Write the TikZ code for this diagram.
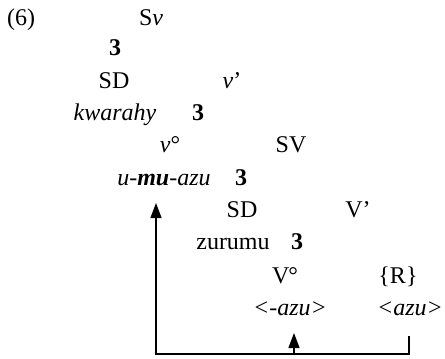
\documentclass[tikz,border=0pt]{standalone}
\usepackage{fontspec}
\setmainfont{Liberation Serif}
\usetikzlibrary{arrows.meta}
\begin{document}
\begin{tikzpicture}[x=1pt,y=-1pt,
  lbl/.style={anchor=base,inner sep=0pt,font=\fontsize{24}{29}\selectfont},
  br/.style={lbl,font=\fontsize{24}{29}\selectfont\bfseries},
  mv/.style={line width=1.3pt},
  tip/.style={-{Triangle[length=15pt,width=11pt]}}]
\useasboundingbox (0,0) rectangle (445,359);
% labels
\node[lbl,anchor=base west] (ex) at (7,25) {(6)};
\node[lbl] (sv) at (151,25) {S\textit{v}};
\node[br] (b1) at (115,55) {3};
\node[lbl] (sd1) at (114,88) {SD};
\node[lbl] (vbar) at (232,88) {\textit{v}’};
\node[lbl] (kw) at (115,120) {\textit{kwarahy}};
\node[br] (b2) at (198,120) {3};
\node[lbl] (v0) at (170,152) {\textit{v}°};
\node[lbl] (svp) at (291,152) {SV};
\node[lbl] (umu) at (164,185) {\textit{u-\textbf{mu}-azu}};
\node[br] (b3) at (241,185) {3};
\node[lbl] (sd2) at (242,217) {SD};
\node[lbl] (vb) at (358,217) {V’};
\node[lbl] (zu) at (233,249) {zurumu};
\node[br] (b4) at (297,249) {3};
\node[lbl] (V0) at (285,283) {V\kern-1pt°};
\node[lbl] (R) at (398,283) {\{R\}};
\node[lbl] (azu1) at (290,315) {\textit{<-azu>}};
\node[lbl] (azu2) at (410,315) {\textit{<azu>}};
% movement lines
\coordinate (rtop) at (409,336);
\coordinate (lc) at (156,354);
\coordinate (ltip) at (156,203);
\coordinate (mbase) at (294,354);
\coordinate (mtip) at (294,333);
\draw[mv,tip,line join=miter] (rtop) |- (lc) -- (ltip);
\draw[mv,tip] (mbase) -- (mtip);
\end{tikzpicture}
\end{document}
